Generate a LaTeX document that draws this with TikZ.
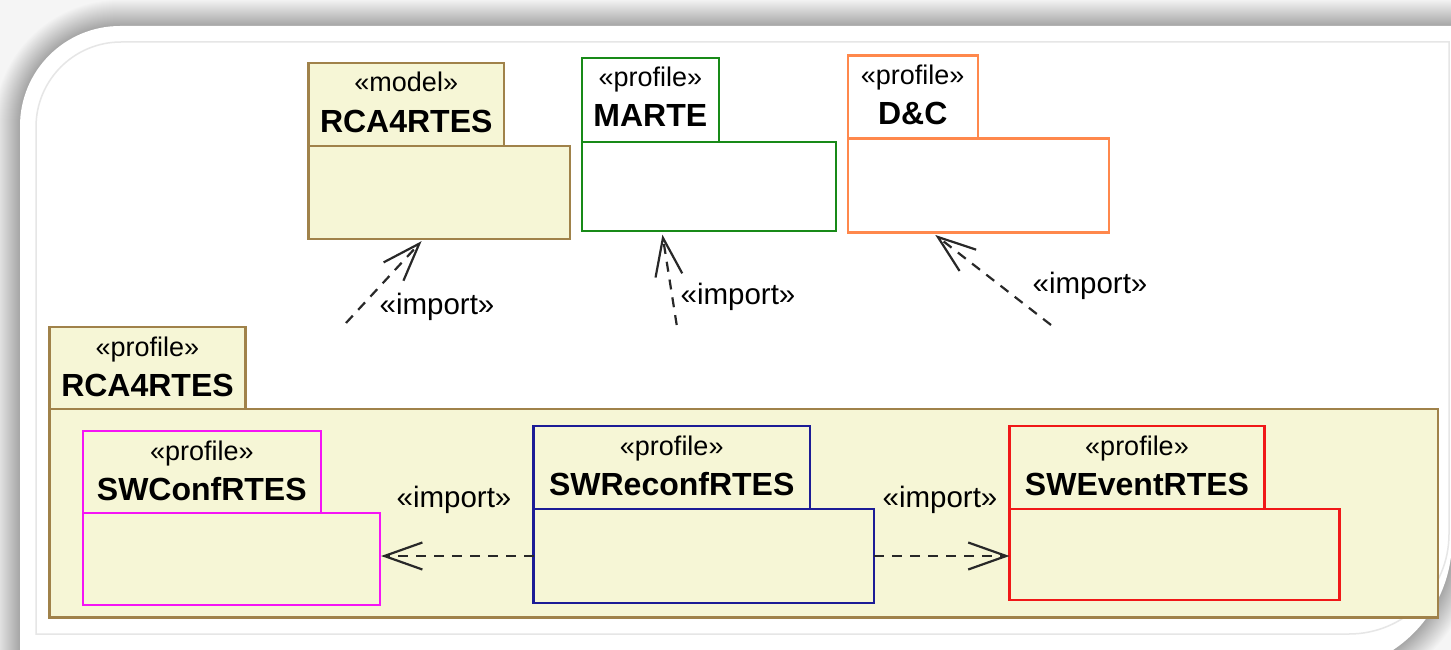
\documentclass[tikz,border=0pt]{standalone}
\usepackage{fontspec}
\setmainfont{Liberation Sans}
\usetikzlibrary{arrows.meta,calc}

\definecolor{cream}{RGB}{246,246,214}
\definecolor{olive}{RGB}{160,130,74}
\definecolor{martegreen}{RGB}{24,138,24}
\definecolor{dcorange}{RGB}{255,136,76}
\definecolor{confmagenta}{RGB}{245,20,245}
\definecolor{reconfblue}{RGB}{28,28,150}
\definecolor{eventred}{RGB}{240,24,24}
\definecolor{arrowgray}{RGB}{40,40,40}
\definecolor{pagebg}{RGB}{245,245,245}
\definecolor{framegray}{RGB}{230,230,230}

% outline of the white sheet, grown by #1 for the soft shadow
\newcommand\sheetoutline[1]{(20-#1,672+#1) -- (20-#1,126)
  arc[start angle=180,end angle=90,radius=100pt+#1pt] -- (1452+#1,26-#1)
  -- (1452+#1,540) arc[start angle=0,end angle=-90,radius=132pt+#1pt] -- cycle}

\tikzset{
  pkg/.style={draw, line width=2.2pt, inner sep=0pt, outer sep=0pt, anchor=north west},
  stereo/.style={font=\fontsize{27}{30}\selectfont, anchor=base, inner sep=0pt},
  pname/.style={font=\bfseries\fontsize{32}{36}\selectfont, anchor=base, inner sep=0pt},
  implabel/.style={font=\fontsize{29.5}{32}\selectfont, anchor=base, inner sep=0pt},
  imp/.style={draw=arrowgray, line width=2.2pt, dash pattern=on 10pt off 8pt,
    -{Straight Barb[length=38pt,width=27pt,line width=2.2pt]}}
}

\begin{document}
\begin{tikzpicture}[x=1pt,y=-1pt]
\useasboundingbox (0,0) rectangle (1451,650);

% page background and sheet with soft shadow
\fill[pagebg] (0,0) rectangle (1451,650);
\foreach \e in {1,...,26}{
  \fill[black,opacity=0.011] \sheetoutline{\e};
}
\fill[white] \sheetoutline{0};
\draw[framegray,line width=1.5pt] (36,634) -- (36,127)
  arc[start angle=180,end angle=90,radius=85pt] -- (1449,42) -- (1449,534)
  arc[start angle=0,end angle=-90,radius=100pt] -- cycle;

% model RCA4RTES
\node[pkg, draw=olive, fill=cream, minimum width=195.5pt, minimum height=83pt] (mtab) at (308.5,63) {};
\node[pkg, draw=olive, fill=cream, minimum width=261.5pt, minimum height=93pt] (mbody) at (308.5,146) {};
\node[stereo] (mst) at ($(mtab.north)+(0,29)$) {«model»};
\node[pname] (mnm) at ($(mtab.north)+(0,69)$) {RCA4RTES};

% profile MARTE
\node[pkg, draw=martegreen, fill=white, minimum width=137.3pt, minimum height=83.7pt] (atab) at (581.7,58) {};
\node[pkg, draw=martegreen, fill=white, minimum width=254.3pt, minimum height=89pt] (abody) at (581.7,141.7) {};
\node[stereo] (ast) at ($(atab.north)+(0,29)$) {«profile»};
\node[pname] (anm) at ($(atab.north)+(0,69)$) {MARTE};

% profile D&C
\node[pkg, draw=dcorange, fill=white, minimum width=130pt, minimum height=83pt] (dtab) at (847.7,55.5) {};
\node[pkg, draw=dcorange, fill=white, minimum width=261.3pt, minimum height=94pt] (dbody) at (847.7,138.5) {};
\node[stereo] (dst) at ($(dtab.north)+(0,29)$) {«profile»};
\node[pname] (dnm) at ($(dtab.north)+(0,69)$) {D\&C};

% enclosing profile RCA4RTES
\node[pkg, draw=olive, fill=cream, minimum width=196pt, minimum height=82pt] (ptab) at (49.5,327) {};
\node[pkg, draw=olive, fill=cream, minimum width=1388.5pt, minimum height=208.5pt] (pbody) at (49.5,409) {};
\node[stereo] (pst) at ($(ptab.north)+(0,29)$) {«profile»};
\node[pname] (pnm) at ($(ptab.north)+(0,69)$) {RCA4RTES};

% SWConfRTES
\node[pkg, draw=confmagenta, fill=cream, minimum width=238.4pt, minimum height=82pt] (ctab) at (82.6,431) {};
\node[pkg, draw=confmagenta, fill=cream, minimum width=297pt, minimum height=92pt] (cbody) at (82.6,513) {};
\node[stereo] (cst) at ($(ctab.north)+(0,29)$) {«profile»};
\node[pname] (cnm) at ($(ctab.north)+(0,69)$) {SWConfRTES};

% SWReconfRTES
\node[pkg, draw=reconfblue, fill=cream, minimum width=276.5pt, minimum height=83pt] (rtab) at (533.5,426) {};
\node[pkg, draw=reconfblue, fill=cream, minimum width=340.5pt, minimum height=94pt] (rbody) at (533.5,509) {};
\node[stereo] (rst) at ($(rtab.north)+(0,29)$) {«profile»};
\node[pname] (rnm) at ($(rtab.north)+(0,69)$) {SWReconfRTES};

% SWEventRTES
\node[pkg, draw=eventred, fill=cream, minimum width=255pt, minimum height=83pt] (etab) at (1009.5,426) {};
\node[pkg, draw=eventred, fill=cream, minimum width=330pt, minimum height=91pt] (ebody) at (1009.5,509) {};
\node[stereo] (est) at ($(etab.north)+(0,29)$) {«profile»};
\node[pname] (enm) at ($(etab.north)+(0,69)$) {SWEventRTES};

% import dependencies towards the imported packages
\coordinate (tm) at (346,323);
\coordinate (ta) at (676.7,325);
\coordinate (td) at (1051,325);
\draw[imp, shorten >=3pt] (tm) -- ($(mbody.south west)!0.44!(mbody.south east)$);
\draw[imp, shorten >=4pt] (ta) -- ($(abody.south west)!0.315!(abody.south east)$);
\draw[imp, shorten >=4pt] (td) -- ($(dbody.south west)!0.323!(dbody.south east)$);
\draw[imp, shorten >=1.5pt] (rbody.west) -- (cbody.east |- rbody.west);
\draw[imp] (rbody.east) -- (ebody.west |- rbody.east);

\node[implabel] (lm) at (437,314) {«import»};
\node[implabel] (la) at (738,304) {«import»};
\node[implabel] (ld) at (1090,293) {«import»};
\node[implabel] (lc) at (454,507) {«import»};
\node[implabel] (le) at (940,507) {«import»};
\end{tikzpicture}
\end{document}
